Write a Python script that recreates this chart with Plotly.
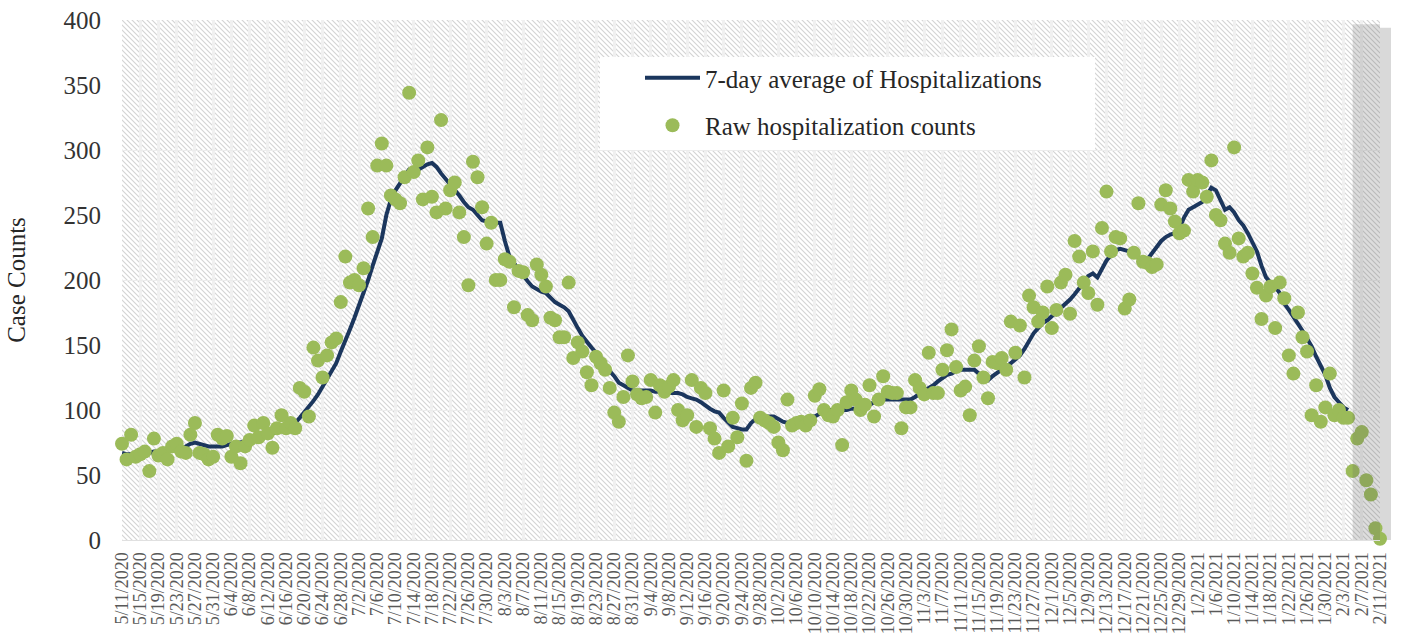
import base64
import pandas as pd
import plotly.graph_objects as go

# ---------------- data ----------------
start_date = "2020-05-11"
end_date = "2021-02-11"
dates = pd.date_range(start_date, end_date, freq="D")

raw_counts = [
    74, 62, 81, 64, 66, 68, 53, 78, 65, 67, 62, 72, 74, 68, 67, 81, 90, 67, 66, 62,
    64, 81, 78, 80, 64, 72, 59, 72, 77, 88, 79, 90, 82, 71, 86, 96, 86, 90, 86, 117,
    114, 95, 148, 138, 125, 142, 152, 155, 183, 218, 198, 200, 196, 209, 255, 233, 288, 305, 288, 265,
    262, 259, 279, 344, 283, 292, 262, 302, 264, 252, 323, 255, 269, 275, 252, 233, 196, 291, 279, 256,
    228, 244, 200, 200, 216, 214, 179, 207, 206, 173, 169, 212, 204, 195, 171, 169, 156, 156, 198, 140,
    152, 145, 129, 119, 141, 136, 131, 117, 98, 91, 110, 142, 122, 112, 109, 110, 123, 98, 119, 114,
    118, 123, 100, 92, 96, 123, 87, 117, 113, 86, 78, 67, 115, 72, 94, 79, 105, 61, 117, 121,
    94, 92, 90, 87, 75, 69, 108, 88, 90, 91, 88, 92, 111, 116, 100, 96, 95, 100, 73, 106,
    115, 108, 100, 104, 119, 95, 108, 126, 114, 113, 113, 86, 102, 102, 123, 117, 112, 144, 113, 113,
    131, 146, 162, 133, 115, 118, 96, 138, 149, 125, 109, 137, 136, 140, 131, 168, 144, 165, 125, 188,
    179, 168, 175, 195, 163, 177, 198, 204, 174, 230, 218, 198, 190, 222, 181, 240, 268, 222, 233, 232,
    178, 185, 221, 259, 214, 213, 210, 212, 258, 269, 255, 245, 236, 238, 277, 268, 277, 275, 264, 292,
    250, 246, 228, 221, 302, 232, 218, 221, 205, 194, 170, 188, 195, 163, 198, 186, 142, 128, 175, 156,
    145, 96, 119, 91, 102, 128, 96, 100, 94, 94, 53, 78, 83, 46, 35, 9, 1,
]

avg_7day = [
    67, 66, 66, 67, 67, 67, 67, 68, 68, 68, 69, 69, 69, 70, 72, 74, 75, 74, 73, 72,
    72, 72, 72, 73, 74, 75, 75, 76, 77, 78, 79, 80, 81, 82, 83, 84, 86, 88, 90, 94,
    98, 102, 107, 112, 118, 124, 130, 136, 145, 153, 162, 171, 180, 190, 200, 211, 221, 232, 250, 262,
    269, 274, 279, 285, 286, 285, 287, 289, 290, 287, 282, 278, 274, 270, 265, 260, 256, 254, 250, 246,
    245, 245, 244, 244, 230, 218, 213, 208, 203, 199, 195, 193, 191, 190, 186, 183, 181, 179, 176, 169,
    163, 157, 152, 148, 144, 139, 134, 130, 126, 121, 119, 117, 115, 115, 115, 115, 115, 114, 114, 113,
    113, 113, 113, 112, 110, 109, 108, 106, 103, 101, 99, 98, 94, 91, 87, 86, 85, 85, 90, 93,
    95, 95, 95, 95, 93, 91, 90, 91, 92, 93, 94, 95, 95, 97, 99, 100, 100, 100, 100, 100,
    101, 101, 102, 103, 104, 106, 107, 108, 108, 108, 108, 108, 108, 108, 110, 113, 115, 117, 119, 122,
    125, 127, 128, 130, 131, 131, 131, 131, 128, 125, 123, 126, 129, 131, 133, 136, 138, 142, 147, 153,
    159, 163, 167, 169, 172, 176, 179, 182, 185, 189, 193, 198, 203, 205, 202, 208, 215, 219, 223, 224,
    223, 222, 221, 217, 213, 216, 221, 226, 230, 233, 235, 236, 240, 248, 254, 256, 258, 260, 265, 271,
    269, 262, 254, 256, 252, 246, 242, 236, 229, 222, 211, 202, 198, 195, 190, 182, 177, 172, 167, 161,
    155, 149, 141, 134, 127, 117, 110, 106, 102, 100,
]

shade_start = "2021-02-05"   # incomplete-data period
y_max = 400
y_ticks_step = 50

series_names = ["7-day average of Hospitalizations", "Raw hospitalization counts"]

# ---------------- styling ----------------
FONT = "Liberation Serif"
NAVY = "#1b365d"
GREEN = "#9bbb59"

W, H = 1405, 638
ML, MR, MT, MB = 122, 25, 20, 98
PW, PH = W - ML - MR, H - MT - MB

# hatched background as an SVG image
svg = (
    f"<svg xmlns='http://www.w3.org/2000/svg' width='{PW}' height='{PH}'>"
    "<defs><pattern id='h' width='5' height='5' patternUnits='userSpaceOnUse'>"
    "<rect width='5' height='5' fill='white'/>"
    "<path d='M-1,-1 L6,6 M-1,4 L1,6 M4,-1 L6,1' stroke='#d3d3d3' stroke-width='1.1'/>"
    "</pattern></defs>"
    "<rect width='100%' height='100%' fill='url(#h)'/></svg>"
)
svg_uri = "data:image/svg+xml;base64," + base64.b64encode(svg.encode()).decode()

fig = go.Figure()

fig.add_trace(go.Scatter(
    x=dates[:len(avg_7day)], y=avg_7day, mode="lines",
    name=series_names[0], legendgroup="a",
    line=dict(color=NAVY, width=4),
))
fig.add_trace(go.Scatter(
    x=dates[:len(raw_counts)], y=raw_counts, mode="markers",
    name=series_names[1], legendgroup="b", cliponaxis=False,
    marker=dict(color=GREEN, size=14, line=dict(width=0)),
))
# invisible trace on overlay axis for horizontal gridlines
fig.add_trace(go.Scatter(x=[dates[0]], y=[0], yaxis="y2", mode="markers",
                         marker=dict(opacity=0), showlegend=False, hoverinfo="skip"))

fig.add_layout_image(dict(
    source=svg_uri, xref="paper", yref="paper", x=0, y=1, sizex=1, sizey=1,
    xanchor="left", yanchor="top", sizing="stretch", layer="below",
))

# grey overlay for incomplete period + its shadow
fig.add_shape(type="rect", xref="x", yref="paper", x0=shade_start, x1=end_date,
              y0=0, y1=0.992, fillcolor="rgba(100,100,100,0.22)", line_width=0, layer="above")
fig.add_shape(type="rect", xref="paper", yref="paper", x0=1.0, x1=1.0 + 11 / PW,
              y0=0, y1=0.985, fillcolor="#d9d9d9", line_width=0, layer="below")

# legend box
fig.add_shape(type="rect", xref="paper", yref="paper",
              x0=(600 - ML) / PW, x1=(1095 - ML) / PW,
              y0=(H - MB - 150) / PH, y1=(H - MB - 57) / PH,
              fillcolor="white", line_width=0, layer="above")

fig.update_layout(
    width=W, height=H,
    margin=dict(l=ML, r=MR, t=MT, b=MB, autoexpand=False),
    paper_bgcolor="white", plot_bgcolor="rgba(0,0,0,0)",
    font=dict(family=FONT, color="#333333"),
    showlegend=True,
    legend=dict(
        x=(640 - ML) / PW, y=(H - MB - 55) / PH, xanchor="left", yanchor="top",
        bgcolor="rgba(0,0,0,0)", font=dict(family=FONT, size=25, color="#262626"),
        itemwidth=55, tracegroupgap=12, traceorder="grouped",
    ),
    xaxis=dict(
        type="date", automargin=False,
        range=[start_date, end_date],
        tick0=start_date, dtick=4 * 86400000,
        tickformat="%-m/%-d/%Y", tickangle=-90,
        tickfont=dict(family=FONT, size=18, color="#595959"),
        showgrid=True, gridcolor="#f0f0f0", gridwidth=3,
        showline=True, linecolor="#e0e0e0", linewidth=1,
        ticks="", ticklabelstandoff=4, zeroline=False,
    ),
    yaxis=dict(
        automargin=False,
        range=[0, y_max], dtick=y_ticks_step, tick0=0,
        tickfont=dict(family=FONT, size=25, color="#333333"),
        showgrid=False, zeroline=False, ticks="", ticklabelstandoff=20,
        title=dict(text="Case Counts", font=dict(family=FONT, size=25, color="#262626"), standoff=30),
    ),
    yaxis2=dict(
        automargin=False,
        range=[0, y_max], dtick=100, overlaying="y", showticklabels=False,
        showgrid=True, gridcolor="#ececec", gridwidth=1, zeroline=False,
    ),
)

fig.write_html("out.html", config={"displayModeBar": False},
               post_script="document.body.style.margin='0';")
